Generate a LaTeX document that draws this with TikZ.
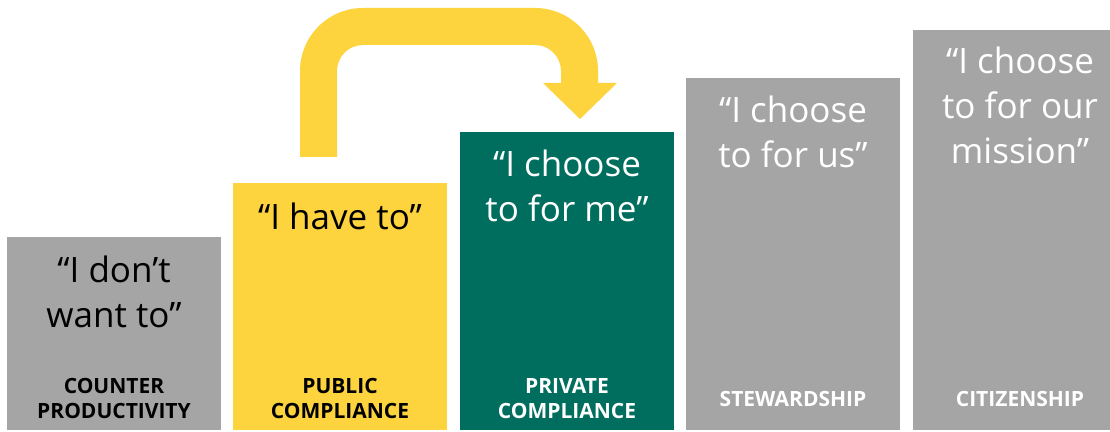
\documentclass[tikz,border=0pt]{standalone}
\usepackage{fontspec}
\setmainfont{Open Sans}
\definecolor{boxgray}{RGB}{165,165,165}
\definecolor{boxyellow}{RGB}{253,211,62}
\definecolor{boxgreen}{RGB}{0,110,94}
\begin{document}
\begin{tikzpicture}[x=1pt,y=1pt,
  bar/.style={draw=none,inner sep=0pt,outer sep=0pt,anchor=south west,minimum width=214pt},
  quote/.style={anchor=base,inner sep=0pt,font=\fontsize{35}{45}\selectfont},
  tag/.style={anchor=base,inner sep=0pt,font=\fontsize{21}{25}\selectfont\bfseries},
]
\clip (0,0) rectangle (1110,431);
\fill[white] (0,0) rectangle (1110,431);
% bars
\node[bar,fill=boxgray,minimum height=193pt] (b1) at (7,1) {};
\node[bar,fill=boxyellow,minimum height=247pt] (b2) at (233,1) {};
\node[bar,fill=boxgreen,minimum height=298pt] (b3) at (460,1) {};
\node[bar,fill=boxgray,minimum height=352pt] (b4) at (686,1) {};
\node[bar,fill=boxgray,minimum height=400pt] (b5) at (913,1) {};
% quotes
\node[quote] (q1a) at ([yshift=-46pt]b1.north) {“I don’t};
\node[quote] (q1b) at ([yshift=-45pt]q1a.base) {want to”};
\node[quote] (q2a) at ([yshift=-47pt]b2.north) {“I have to”};
\node[quote,text=white] (q3a) at ([yshift=-45pt]b3.north) {“I choose};
\node[quote,text=white] (q3b) at ([yshift=-45pt]q3a.base) {to for me”};
\node[quote,text=white] (q4a) at ([yshift=-45pt]b4.north) {“I choose};
\node[quote,text=white] (q4b) at ([yshift=-45pt]q4a.base) {to for us”};
\node[quote,text=white] (q5a) at ([yshift=-44pt]b5.north) {“I choose};
\node[quote,text=white] (q5b) at ([yshift=-45pt]q5a.base) {to for our};
\node[quote,text=white] (q5c) at ([yshift=-45pt]q5b.base) {mission”};
% tags
\node[tag] (t1a) at ([yshift=37pt]b1.south) {COUNTER};
\node[tag] (t1b) at ([yshift=-25pt]t1a.base) {PRODUCTIVITY};
\node[tag] (t2a) at ([yshift=37pt]b2.south) {PUBLIC};
\node[tag] (t2b) at ([yshift=-25pt]t2a.base) {COMPLIANCE};
\node[tag,text=white] (t3a) at ([yshift=37pt]b3.south) {PRIVATE};
\node[tag,text=white] (t3b) at ([yshift=-25pt]t3a.base) {COMPLIANCE};
\node[tag,text=white] (t4) at ([yshift=24pt]b4.south) {STEWARDSHIP};
\node[tag,text=white] (t5) at (1020,25) {CITIZENSHIP};
% arrow
\fill[boxyellow] (300,274) -- (300,360) arc[start angle=180,end angle=90,radius=63]
  -- (535,423) arc[start angle=90,end angle=0,radius=63]
  -- (598,348) -- (617,348) -- (580,312) -- (543,348) -- (561,348)
  -- (561,360) arc[start angle=0,end angle=90,radius=26]
  -- (363,386) arc[start angle=90,end angle=180,radius=26]
  -- (337,274) -- cycle;
\end{tikzpicture}
\end{document}
